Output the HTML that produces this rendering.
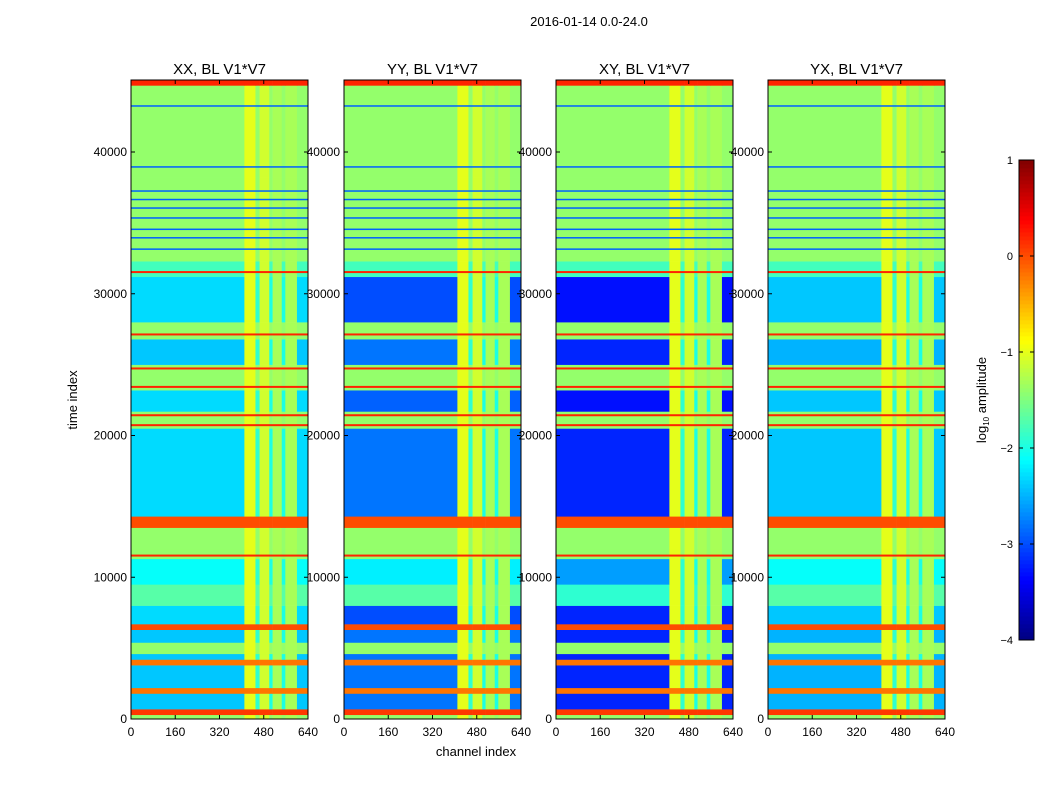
<!DOCTYPE html>
<html><head><meta charset="utf-8"><style>
body{margin:0;background:#fff;font-family:"Liberation Sans",sans-serif}
svg text{font-family:"Liberation Sans",sans-serif}
</style></head><body>
<svg id="fig" width="1050" height="800" viewBox="0 0 1050 800" xmlns="http://www.w3.org/2000/svg">
<text x="589" y="26" font-size="13" text-anchor="middle">2016-01-14 0.0-24.0</text>
<text x="476" y="756" font-size="13" text-anchor="middle">channel index</text>
<text x="77" y="400" font-size="13" text-anchor="middle" transform="rotate(-90 77 400)">time index</text>
</svg>
<script>
const products = ["XX","YY","XY","YX"];
const segStart = [0,300,700,1800,2200,3800,4200,4600,5400,6300,6700,8000,9500,11300,12000,13500,14300,20500,21700,23200,25000,26800,28000,31200,32300,38200,44700];
const valXX = [-1.4,0.1,-2.4,-0.2,-2.4,-0.2,-2.4,-1.4,-2.4,0.0,-2.3,-1.7,-2.1,-1.4,-1.4,0.0,-2.3,-1.4,-2.3,-1.4,-2.4,-1.4,-2.3,-1.8,-1.4,-1.4,0.2];
const valYY = [-1.4,0.1,-2.8,-0.2,-2.8,-0.2,-2.8,-1.4,-2.8,0.0,-3.0,-1.7,-2.2,-1.4,-1.4,0.0,-2.8,-1.4,-2.9,-1.4,-2.8,-1.4,-3.0,-1.8,-1.4,-1.4,0.2];
const valXY = [-1.4,0.1,-3.2,-0.2,-3.2,-0.2,-3.2,-1.4,-3.2,0.0,-3.2,-1.9,-2.6,-1.4,-1.4,0.0,-3.2,-1.4,-3.3,-1.4,-3.2,-1.4,-3.3,-1.8,-1.4,-1.4,0.2];
const valYX = [-1.4,0.1,-2.5,-0.2,-2.5,-0.2,-2.5,-1.4,-2.5,0.0,-2.4,-1.7,-2.1,-1.4,-1.4,0.0,-2.4,-1.4,-2.4,-1.4,-2.5,-1.4,-2.4,-1.8,-1.4,-1.4,0.2];
const colEdges = [0,410,450,465,500,512,545,558,600,640];
const colLevel = [-9,-1.0,-1.9,-1.1,-2.0,-1.3,-2.0,-1.3,-9];
const blueLines = [33200,34000,34600,35400,36100,36700,37300,39000,43300];
const redLines = [31600,27200,24800,23500,21500,20800,11600];
const xTicks = [0,160,320,480,640];
const yTicks = [0,10000,20000,30000,40000];
const cbTicks = [1,0,-1,-2,-3,-4];
const tMax = 45080;
const panelX = [131,344,556,768], pw = 177, pTop = 80, bot = 719;
const NS = "http://www.w3.org/2000/svg";
const svg = document.getElementById("fig");
function jet(v){
  let t = Math.max(0, Math.min(1, (v + 4) / 5));
  const f = x => Math.max(0, Math.min(1, x));
  const r = f(Math.min(4*t-1.5, -4*t+4.5)), g = f(Math.min(4*t-0.5, -4*t+3.5)), b = f(Math.min(4*t+0.5, -4*t+2.5));
  return `rgb(${Math.round(r*255)},${Math.round(g*255)},${Math.round(b*255)})`;
}
function mk(tag, attrs, parent){ const e = document.createElementNS(NS, tag); for (const k in attrs) e.setAttribute(k, attrs[k]); (parent||svg).appendChild(e); return e; }
const allVals = [valXX, valYY, valXY, valYX];
products.forEach((p, pi) => {
  const x0 = panelX[pi];
  const xs = c => x0 + c / 640 * pw;
  const ys = t => bot - t / tMax * (bot - pTop);
  const g = mk("g", {});
  
  
  const vals = allVals[pi];
  for (let s = 0; s < segStart.length; s++) {
    const t0 = segStart[s], t1 = s + 1 < segStart.length ? segStart[s+1] : tMax;
    for (let c = 0; c < colEdges.length - 1; c++) {
      const v = Math.max(vals[s], colLevel[c]);
      const r = mk("rect", {x: xs(colEdges[c]), y: ys(t1), width: xs(colEdges[c+1]) - xs(colEdges[c]) + 0.3, height: ys(t0) - ys(t1) + 0.3, fill: jet(v)}, g);
      
      
    }
  }
  blueLines.forEach(t => {
    const l = mk("rect", {x: x0, y: ys(t), width: pw, height: 1.5, fill: jet(-2.9)}, g);
    
    
  });
  redLines.forEach(t => {
    const l = mk("rect", {x: x0, y: ys(t), width: pw, height: 2, fill: jet(0.2)}, g);
    
    
  });
  const fr = mk("rect", {x: x0, y: pTop, width: pw, height: bot - pTop, fill: "none", stroke: "#000", "stroke-width": 1});
  
  
  const ti = mk("text", {x: x0 + pw/2, y: 74, "font-size": 15, "text-anchor": "middle"});
  ti.textContent = p + ", BL V1*V7";
  
  
  xTicks.forEach(v => {
    mk("line", {x1: xs(v), x2: xs(v), y1: bot, y2: bot - 4, stroke: "#000"});
    mk("line", {x1: xs(v), x2: xs(v), y1: pTop, y2: pTop + 4, stroke: "#000"});
    const tx = mk("text", {x: xs(v), y: bot + 17, "font-size": 12, "text-anchor": "middle"});
    tx.textContent = v;
    
    
  });
  yTicks.forEach(v => {
    mk("line", {x1: x0, x2: x0 + 4, y1: ys(v), y2: ys(v), stroke: "#000"});
    mk("line", {x1: x0 + pw, x2: x0 + pw - 4, y1: ys(v), y2: ys(v), stroke: "#000"});
    const ty = mk("text", {x: x0 - 4, y: ys(v) + 4, "font-size": 12, "text-anchor": "end"});
    ty.textContent = v;
    
    
  });
});
const cbX = 1019, cbW = 15, cbTop = 160, cbBot = 640;
const cby = v => cbBot - (v + 4) / 5 * (cbBot - cbTop);
const cg = mk("g", {});


for (let i = 0; i < 120; i++) {
  const v = -4 + (i + 0.5) * 5 / 120;
  mk("rect", {x: cbX, y: cby(-4 + (i+1)*5/120), width: cbW, height: (cbBot-cbTop)/120 + 0.4, fill: jet(v)}, cg);
}
mk("rect", {x: cbX, y: cbTop, width: cbW, height: cbBot - cbTop, fill: "none", stroke: "#000"}, cg);
cbTicks.forEach(v => {
  mk("line", {x1: cbX, x2: cbX + 4, y1: cby(v), y2: cby(v), stroke: "#000"}, cg);
  mk("line", {x1: cbX + cbW, x2: cbX + cbW - 4, y1: cby(v), y2: cby(v), stroke: "#000"}, cg);
  const t = mk("text", {x: 1013, y: cby(v) + 4, "font-size": 11, "text-anchor": "end"}, cg);
  t.textContent = v < 0 ? "\u2212" + (-v) : v;
  
  
});
const cl = mk("text", {x: 986, y: 400, "font-size": 13, "text-anchor": "middle", transform: "rotate(-90 986 400)"});
cl.innerHTML = 'log<tspan font-size="8" dy="3">10</tspan><tspan dy="-3"> amplitude</tspan>';


</script>
</body></html>
